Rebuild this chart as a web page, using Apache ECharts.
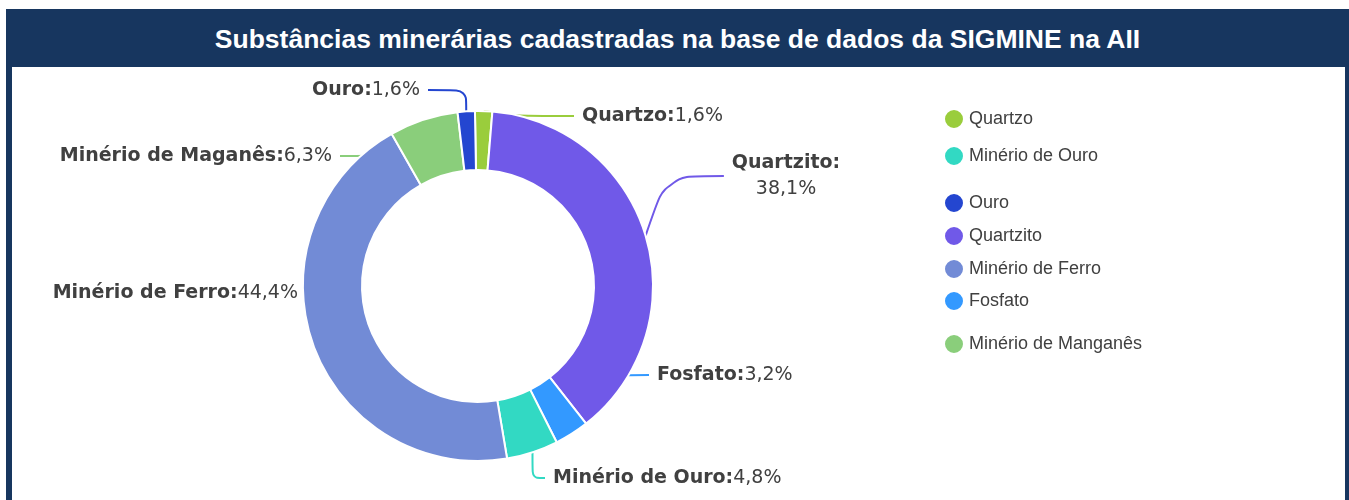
<!DOCTYPE html>
<html>
<head>
<meta charset="utf-8">
<script src="https://cdn.jsdelivr.net/npm/echarts@6/dist/echarts.min.js"></script>
<style>
  body { margin: 0; background: #fff; }
  .box { position: relative; width: 1349px; height: 500px; overflow: hidden; }
  #chart { position: absolute; left: 0; top: 0; width: 1349px; height: 500px; }
  .title {
    position: absolute; left: 6px; top: 9px; width: 1343px; height: 58px;
    background: #17365f; color: #fff;
    font: bold 26.5px "Liberation Sans", Arial, sans-serif;
    line-height: 60px; text-align: center;
  }
  .side { position: absolute; top: 67px; bottom: 0; background: #17365f; }
  .side.l { left: 6px; width: 6px; }
  .side.r { left: 1345px; width: 4px; }
</style>
</head>
<body>
<div class="box">
  <div id="chart"></div>
  <div class="title">Substâncias minerárias cadastradas na base de dados da SIGMINE na AII</div>
  <div class="side l"></div>
  <div class="side r"></div>
</div>
<script>
// fatias no sentido horário a partir do topo
const names = ['Quartzo', 'Quartzito', 'Fosfato', 'Minério de Ouro', 'Minério de Ferro', 'Minério de Manganês', 'Ouro'];
const labelNames = ['Quartzo', 'Quartzito', 'Fosfato', 'Minério de Ouro', 'Minério de Ferro', 'Minério de Maganês', 'Ouro'];
const values = [1, 24, 2, 3, 28, 4, 1];
const colors = ['#9acd3c', '#7059e8', '#3399ff', '#32d9c3', '#728bd6', '#8ace7b', '#2446d0'];
// ordem da legenda
const legendNames = ['Quartzo', 'Minério de Ouro', 'Ouro', 'Quartzito', 'Minério de Ferro', 'Fosfato', 'Minério de Manganês'];

// layout (px): topo de cada item da legenda, posição de cada rótulo (borda do texto)
const legendTops = [108, 145, 192, 225, 258, 290, 333];
const labelSpots = [
  [582, 116, 'left'],
  [786, 176, 'center'],
  [657, 375, 'left'],
  [553, 478, 'left'],
  [298, 293, 'right'],
  [332, 156, 'right'],
  [420, 90, 'right']
];
const padX = 8, padY = 3;

const chart = echarts.init(document.getElementById('chart'));

const seriesData = names.map((n, i) => ({
  name: n,
  value: values[i],
  itemStyle: { color: colors[i] }
}));

const option = {
  animation: false,
  legend: legendNames.map((n, i) => ({
    data: [n],
    left: 943,
    top: legendTops[i],
    padding: 0,
    icon: 'circle',
    itemWidth: 20,
    itemHeight: 20,
    itemGap: 10,
    textStyle: { fontSize: 18, color: '#404040', fontFamily: 'Liberation Sans' }
  })),
  series: [{
    type: 'pie',
    center: [478, 286],
    radius: [116, 175],
    startAngle: 91,
    itemStyle: { borderColor: '#fff', borderWidth: 2 },
    label: {
      color: '#404040',
      fontSize: 19,
      overflow: 'none',
      // caixa invisível em volta do texto: a linha para um pouco antes do rótulo
      backgroundColor: 'transparent',
      padding: [padY, padX],
      formatter: p => {
        const txt = labelNames[p.dataIndex];
        const pct = p.percent.toFixed(1).replace('.', ',') + '%';
        // Quartzito quebra em duas linhas centradas
        if (p.dataIndex === 1) return `{bc|${txt}:}\n{cc|${pct}}`;
        return `{b|${txt}:}{c|${pct}}`;
      },
      rich: {
        b: { fontWeight: 'bold', fontSize: 19, color: '#404040', fontFamily: 'DejaVu Sans' },
        c: { fontSize: 19, color: '#404040', fontFamily: 'DejaVu Sans' },
        bc: { fontWeight: 'bold', fontSize: 19, color: '#404040', fontFamily: 'DejaVu Sans', align: 'center', lineHeight: 26 },
        cc: { fontSize: 19, color: '#404040', fontFamily: 'DejaVu Sans', align: 'center', lineHeight: 26 }
      }
    },
    labelLine: { length: 18, length2: 58, smooth: true, lineStyle: { width: 2 } },
    // rótulos arrastados para as posições do original; a linha é refeita pelo echarts
    labelLayout: p => {
      const [x, y, align] = labelSpots[p.dataIndex];
      const shift = align === 'left' ? -padX : align === 'right' ? padX : 0;
      return { x: x + shift, y: y, align: align, verticalAlign: 'middle' };
    },
    data: seriesData
  }]
};
chart.setOption(option);
</script>
</body>
</html>
